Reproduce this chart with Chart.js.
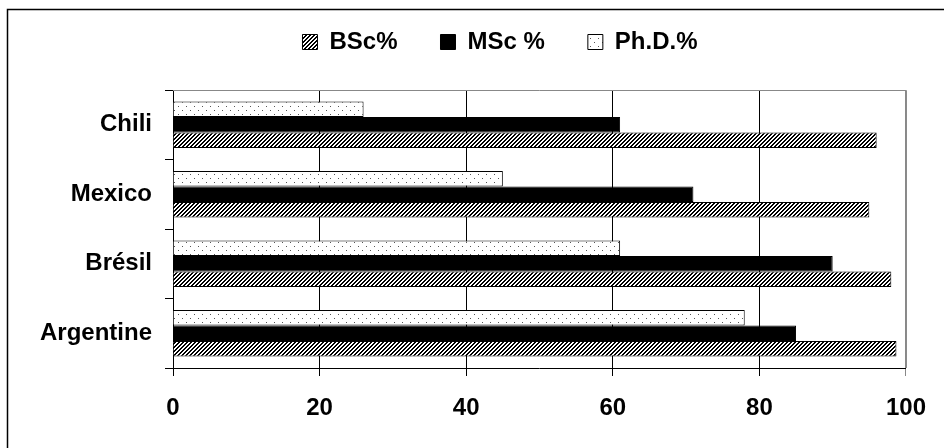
<!DOCTYPE html>
<html>
<head>
<meta charset="utf-8">
<script src="https://cdn.jsdelivr.net/npm/chart.js@4/dist/chart.umd.min.js"></script>
<style>
html,body{margin:0;padding:0;background:#fff;}
#wrap{width:944px;height:448px;position:relative;}
</style>
</head>
<body>
<div id="wrap"><canvas id="c" width="944" height="448"></canvas></div>
<script>
const categories = ['Chili', 'Mexico', 'Brésil', 'Argentine'];
const phdValues = [26, 45, 61, 78];
const mscValues = [61, 71, 90, 85];
const bscValues = [96, 95, 98, 98.7];
const xTicks = [0, 20, 40, 60, 80, 100];
const seriesNames = ['BSc%', 'MSc %', 'Ph.D.%'];

function hatchPattern() {
  const c = document.createElement('canvas');
  c.width = 4; c.height = 4;
  const g = c.getContext('2d');
  g.fillStyle = '#fff'; g.fillRect(0, 0, 4, 4);
  g.fillStyle = '#000';
  for (let y = 0; y < 4; y++) for (let x = 0; x < 4; x++) {
    if ((x + y) % 4 < 2) g.fillRect(x, y, 1, 1);
  }
  return g.createPattern(c, 'repeat');
}
function dotPattern() {
  const c = document.createElement('canvas');
  c.width = 8; c.height = 8;
  const g = c.getContext('2d');
  g.fillStyle = '#fff'; g.fillRect(0, 0, 8, 8);
  g.fillStyle = '#555';
  g.fillRect(2, 2, 1, 1);
  g.fillRect(6, 6, 1, 1);
  return g.createPattern(c, 'repeat');
}

const FONT = "'Liberation Sans', Arial, sans-serif";

const framePlugin = {
  id: 'frame',
  afterLayout(chart) {
    const lg = chart.legend;
    if (lg) {
      const dy = 26, dx = 46;
      lg.top -= dy; lg.bottom -= dy;
      lg.left += dx; lg.right += dx;
    }
  },
  beforeDatasetsDraw(chart) {
    const {ctx, chartArea: a} = chart;
    ctx.save();
    ctx.strokeStyle = '#888';
    ctx.lineWidth = 1;
    ctx.beginPath();
    ctx.moveTo(a.left, a.top + 0.5);
    ctx.lineTo(a.right + 0.5, a.top + 0.5);
    ctx.lineTo(a.right + 0.5, a.bottom);
    ctx.stroke();
    ctx.restore();
  },
  afterDraw(chart) {
    const ctx = chart.ctx;
    ctx.save();
    ctx.strokeStyle = '#000';
    ctx.lineWidth = 1.5;
    ctx.beginPath();
    ctx.moveTo(7.5, 448);
    ctx.lineTo(7.5, 9.5);
    ctx.lineTo(944, 9.5);
    ctx.stroke();
    ctx.restore();
  }
};

new Chart(document.getElementById('c'), {
  type: 'bar',
  data: {
    labels: categories,
    datasets: [
      { label: seriesNames[2], data: phdValues, backgroundColor: dotPattern(), borderColor: '#000', borderWidth: 1 },
      { label: seriesNames[1], data: mscValues, backgroundColor: '#000', borderColor: '#000', borderWidth: 1 },
      { label: seriesNames[0], data: bscValues, backgroundColor: hatchPattern(), borderColor: '#000', borderWidth: 1 }
    ]
  },
  options: {
    indexAxis: 'y',
    responsive: false,
    animation: false,
    devicePixelRatio: 1,
    categoryPercentage: 0.67,
    barPercentage: 1.0,
    layout: { padding: { top: 13, right: 36, left: 0, bottom: 0 } },
    plugins: {
      legend: {
        position: 'top',
        reverse: true,
        labels: {
          color: '#000',
          font: { family: FONT, size: 24, weight: 'bold' },
          boxWidth: 15,
          boxHeight: 15,
          padding: 43
        }
      },
      tooltip: { enabled: false }
    },
    scales: {
      x: {
        min: 0, max: 100,
        afterBuildTicks(scale) { scale.ticks = xTicks.map(v => ({ value: v })); },
        afterFit(scale) { scale.height = 80; },
        border: { display: true, color: '#000', width: 1 },
        grid: {
          color: ctx => (ctx.tick && ctx.tick.value === 100) ? '#888' : '#000',
          lineWidth: 1,
          tickLength: 8,
          drawTicks: true
        },
        ticks: {
          color: '#000',
          font: { family: FONT, size: 24, weight: 'bold' },
          padding: 18,
          maxRotation: 0
        }
      },
      y: {
        afterFit(scale) { scale.width = 173; },
        border: { display: true, color: '#000', width: 1 },
        grid: {
          drawOnChartArea: false,
          drawTicks: true,
          tickLength: 8,
          color: '#000'
        },
        ticks: {
          color: '#000',
          font: { family: FONT, size: 24, weight: 'bold' },
          padding: 13
        }
      }
    }
  },
  plugins: [framePlugin]
});
</script>
</body>
</html>
